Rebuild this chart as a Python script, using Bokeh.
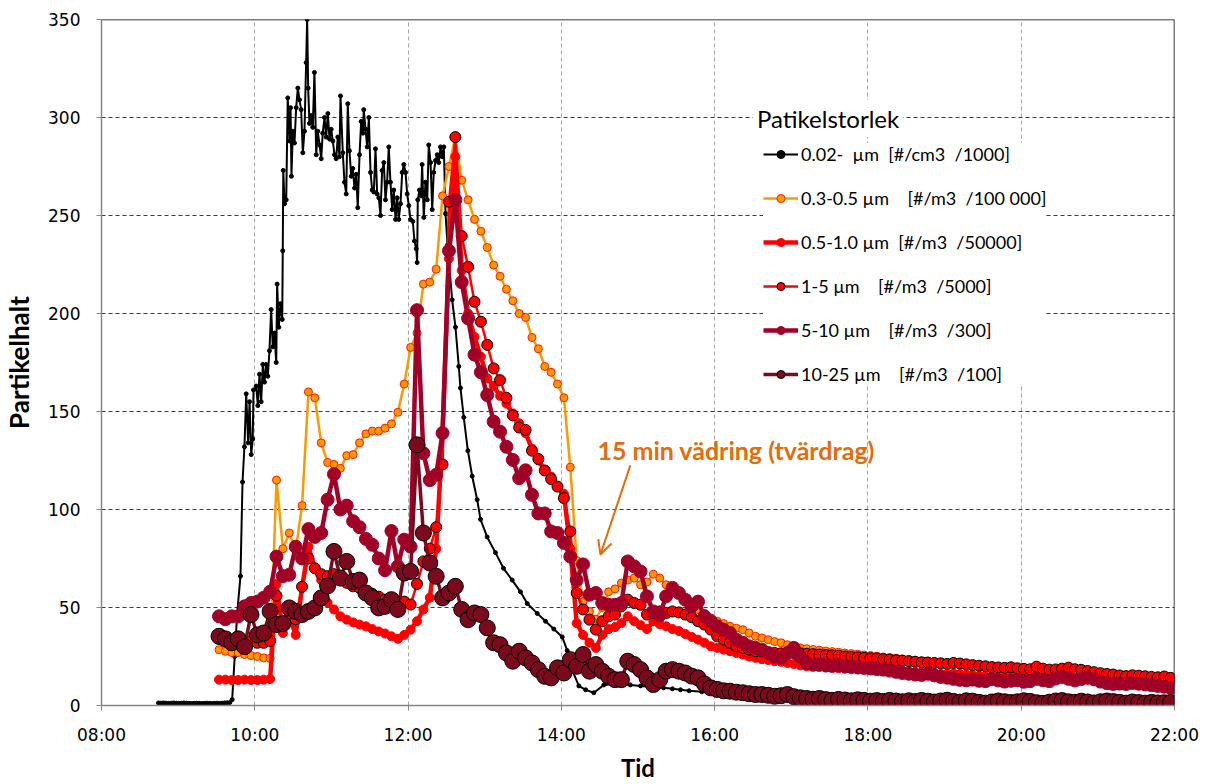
from bokeh.plotting import figure
from bokeh.models import (Range1d, FixedTicker, Legend, LegendItem, Label, Arrow,
                          OpenHead, Span, ColumnDataSource)
from bokeh.embed import file_html
from bokeh.resources import INLINE

# ---------------- data ----------------
# 0.02 um series (#/cm3 /1000): time in minutes after 08:00, value
black_min = [44.6, 46.5, 48.5, 50.5, 52.5, 54.5, 56.5, 58.5, 60.5, 62.5, 64.5, 66.5, 68.5, 70.5, 72.5,
             74.5, 76.5, 78.5, 80.5, 82.5, 84.5, 86.5, 88.5, 90.5, 92.5, 94.5, 96.5, 98.5, 100.5, 102.3,
             104.3, 106.2, 108.8, 110.4, 111.9, 113.3, 114.8, 115.9, 117.2, 118.4, 119.0, 121.1, 122.4,
             123.7, 125.0, 126.3, 127.6, 128.9, 130.2, 131.5, 132.8, 134.1, 135.4, 136.8, 137.5, 138.8,
             140.1, 141.5, 141.9, 142.3, 143.3, 144.6, 145.8, 147.2, 148.0, 148.7, 149.8, 151.1, 152.4,
             153.7, 155.0, 156.3, 157.6, 158.9, 160.2, 161.0, 161.8, 162.8, 164.2, 165.4, 166.7, 168.1,
             169.3, 170.7, 172.0, 173.2, 174.6, 175.9, 177.2, 178.5, 179.8, 181.1, 182.4, 183.7, 185.0,
             186.3, 187.1, 188.9, 190.2, 191.6, 192.8, 194.1, 195.5, 196.7, 198.1, 199.4, 200.6, 202.0,
             203.3, 204.6, 205.3, 206.7, 208.0, 209.3, 210.6, 211.9, 213.2, 214.5, 215.8, 217.1, 218.4,
             219.7, 221.0, 222.3, 223.6, 224.9, 226.2, 227.6, 228.8, 230.2, 231.5, 232.7, 234.1, 235.4,
             236.7, 238.0, 239.3, 240.6, 241.9, 243.7, 245.0, 246.4, 247.1, 247.6, 248.9, 250.3, 251.0,
             252.3, 253.6, 255.0, 256.2, 257.6, 258.9, 260.1, 261.5, 262.8, 264.0, 265.4, 266.7, 268.0,
             269.3, 270.9, 274.5, 277.1, 279.7, 281.0, 283.6, 286.8, 290.2, 294.1, 296.7, 301.9, 308.4,
             314.7, 321.5, 328.0, 333.3, 341.1, 347.6, 354.1, 360.7, 364.6, 368.5, 373.7, 379.0, 385.4,
             393.2, 400.0, 406.3, 414.0, 422.0, 431.0, 440.0, 447.0, 453.3, 460.0, 470.0, 480.0, 490.0,
             500.0, 510.0, 520.0, 530.0, 540.0, 550.0, 560.0, 570.0, 580.0, 590.0, 600.0, 615.0, 630.0,
             645.0, 660.0, 675.0, 690.0, 705.0, 720.0, 735.0, 750.0, 765.0, 780.0, 795.0, 810.0, 825.0,
             838.0]
black_val = [1.3, 1.2, 1.3, 1.2, 1.1, 1.2, 1.3, 1.2, 1.1, 1.2, 1.3, 1.2, 1.1, 1.0, 1.1,
             1.2, 1.1, 1.0, 1.1, 1.2, 1.1, 1.0, 1.1, 1.2, 1.1, 1.2, 1.3, 1.4, 1.5, 3,
             25, 47, 66, 114, 132, 159, 134, 155, 128, 136, 161, 163, 153,
             169, 155, 174, 165, 174, 168, 181, 202, 183, 190, 175, 215, 193,
             205, 197, 232, 273, 256, 258, 310, 288, 305, 270, 293, 287, 305,
             315, 309, 304, 282, 293, 328, 350, 315, 297, 301, 295, 323, 281,
             293, 286, 279, 292, 300, 290, 302, 289, 294, 288, 281, 279, 290,
             280, 311, 282, 267, 261, 307, 283, 270, 274, 264, 271, 254, 281,
             298, 292, 304, 294, 285, 300, 272, 263, 262, 284, 261, 259, 250,
             273, 277, 258, 267, 285, 267, 253, 263, 248, 259, 248, 256, 272,
             276, 272, 261, 255, 248, 247, 237, 233, 226, 258, 263, 260, 276,
             249, 267, 258, 286, 277, 253, 272, 278, 281, 277, 285, 280, 285,
             251, 235, 207, 193, 173, 162, 147, 130, 117, 105, 95, 86, 78,
             70, 64, 58, 52, 47, 43, 39, 35, 28, 18, 10, 8, 6.5,
             10.5, 10.8, 11, 10.5, 10, 9.5, 9, 8.5, 8, 7.5, 7, 6.5, 6,
             5.8, 5.5, 5, 4.8, 4.5, 4.3, 4, 3.8, 3.6, 3.4, 3.2, 3, 2.8,
             2.7, 2.6, 2.5, 2.4, 2.3, 2.2, 2.1, 2, 2, 1.9, 1.9, 1.8, 1.8,
             1.8]

# particle counter series: one sample every 5 minutes from 09:32
pc_start_min = 92      # minutes after 08:00  (09:32)
pc_step_min = 5

pm03_05 = [28.5, 27.7, 27, 27, 26, 25.5, 25, 24.3, 24, 115, 80, 88, 79, 102, 160, 157, 134, 124, 123, 121,
           127.5, 128, 134, 138.6, 140, 140, 141.5, 143.7, 149.6, 164, 182.7, 190, 215, 216, 222.6, 260, 275, 290, 268, 258,
           248, 242, 233.7, 224.7, 219, 212.4, 206.5, 200, 198, 187.8, 182, 173, 170, 164, 157, 121.6, 74, 53, 48, 44,
           50, 58, 59.5, 62.5, 64, 65, 61.6, 63, 67, 65, 61.6, 59, 56.5, 54, 51.5, 49, 47, 44.7, 43, 41.8,
           40.4, 39.4, 38.7, 37, 35.3, 34.5, 33.6, 32.6, 32, 31, 30.2, 29.4, 29, 28.6, 28.2, 27.8, 27.5, 27.2, 26.8, 26.5,
           26.2, 25.8, 25.5, 25.2, 24.8, 24.5, 24.1, 23.8, 23.5, 23.1, 22.8, 22.6, 22.3, 22, 21.8, 22.1, 21.7, 21.3, 20.9, 20.6,
           20.3, 19.9, 19.7, 19.5, 19.7, 19.2, 18.9, 18.7, 19.6, 18.9, 18.5, 18.5, 18.8, 19.1, 18.5, 18.1, 17.6, 17.1, 16.6, 16.2,
           15.9, 15.5, 15.2, 15.4, 15.2, 14.9, 14.7, 14.5, 14.6, 14.2]

pm05_10 = [13.2, 13.2, 13, 13, 13.2, 13, 13, 13.2, 13.5, 62, 37, 46, 36, 60, 81, 70, 64, 52.5, 49, 45.5,
           43.8, 42.4, 41.3, 40.4, 39, 37.8, 36.7, 35.3, 34, 36, 38.7, 43, 49, 55, 80, 139, 228, 280, 222, 200,
           188, 178, 167, 163, 158, 154, 149, 144, 139, 131, 125, 120, 116.8, 112, 108, 80, 42, 36, 32, 29.4,
           36, 39, 40, 42, 45.5, 43, 41, 39, 43, 41.5, 40.4, 39, 38, 36.5, 35, 33.6, 32, 30.2, 29.4, 28.5,
           27.7, 26.8, 26, 25, 24.3, 23.6, 23.2, 22.6, 22.3, 21.7, 21.2, 20.5, 20, 19.8, 19.6, 19.4, 19.2, 19, 18.8, 18.6,
           18.4, 18.3, 18.2, 18, 17.8, 17.6, 17.5, 17.3, 17, 16.8, 16.6, 16.5, 16.3, 16.1, 16, 16.3, 16, 15.7, 15.5, 15.2,
           15, 14.8, 14.6, 14.5, 14.7, 14.3, 14.1, 13.9, 14.8, 14, 13.8, 13.7, 14.2, 14.5, 13.8, 13.5, 13.2, 13, 12.8, 12.6,
           12.4, 12.2, 12.1, 12.3, 12.2, 12, 11.8, 11.7, 11.9, 11.5]

pm1_5 = [34, 33, 32.5, 32, 31.5, 33, 32, 32, 33, 56, 42, 50, 44, 60.6, 75, 70, 67, 66, 67, 64,
         62.6, 60.8, 60, 58, 57, 55.5, 54, 53, 52.5, 53, 51.5, 62, 73.5, 80, 91, 123, 257, 290, 239.5, 223.8,
         206, 195.8, 184, 172, 166, 157, 148, 141.8, 140.6, 130, 125.8, 119.9, 115.5, 111.7, 105.8, 88.8, 57.4, 49, 43.8, 38.7,
         43, 45.5, 46.4, 50.6, 54, 52.3, 51.4, 46.4, 47.2, 48, 47.2, 48, 47.5, 46.4, 45, 43, 41.3, 38.7, 35.3, 33.6,
         32, 30.2, 29.4, 28.5, 27.7, 27.7, 26.8, 26.8, 26.6, 26.5, 26.8, 26.6, 26.4, 26.2, 26, 25.8, 25.6, 25.4, 25, 24.8,
         24.6, 24.3, 24.1, 24, 23.6, 23.4, 23.1, 22.8, 22.6, 22.3, 22, 21.9, 21.7, 21.5, 21.2, 21.7, 21.4, 21, 20.6, 20.3,
         20, 19.6, 19.4, 19.2, 19.5, 19, 18.7, 18.5, 19.8, 18.8, 18.3, 18.4, 18.8, 19.3, 18.5, 18.2, 17.6, 17, 16.5, 16.1,
         15.8, 15.3, 15, 15.4, 15.2, 14.9, 14.6, 14.4, 14.8, 14.1]

pm5_10 = [45.5, 44, 45.5, 45.5, 50.6, 52.3, 53, 55, 58, 76, 66, 66.7, 81, 75, 90, 86, 88, 105, 118, 100,
          102, 94, 91, 85, 82, 75, 69, 89, 71, 84.6, 81, 201.7, 128.7, 115, 117.7, 139, 232, 258, 216, 197.5,
          179, 170, 158.4, 144.8, 139.7, 132, 125.3, 116, 120, 107.5, 98, 98, 88.8, 88, 83, 76, 64, 72, 56.5, 57.4,
          52.3, 51.4, 51.4, 52.3, 73.5, 71, 68.4, 55.7, 48, 46, 55.7, 60, 57.4, 54, 50.6, 53, 45.5, 43, 40.4, 38.7,
          37, 33.6, 32, 30.2, 29.4, 28.5, 26.8, 25, 24.3, 26.8, 29.4, 25, 21.7, 20.9, 21, 20.5, 20.3, 20.6, 20, 19.8,
          19.5, 19.2, 18.9, 18.6, 18.3, 17.8, 17.2, 16.6, 16.2, 15.8, 15.6, 16.2, 15.4, 14.6, 14.2, 13.6, 13.1, 12.8, 13.2, 12.6,
          12.4, 13.5, 12.8, 12.2, 12.6, 12.9, 12.1, 12.4, 13.6, 12.9, 12.4, 13.8, 14.6, 13.6, 12.8, 13.5, 14.2, 13.4, 12.2, 11.4,
          11, 11.2, 11, 11.5, 11.1, 10.8, 10.4, 10, 9.6, 9]

pm10_25 = [35.3, 34, 32, 34, 30, 46.4, 36, 37, 48, 41.3, 41.8, 49.8, 48, 46.4, 48, 49.8, 54.9, 61, 78.6, 65,
           73.5, 63.3, 64, 57.4, 54.9, 49.8, 50.6, 54, 49, 67.6, 68.4, 133, 88, 72.7, 65.9, 54.9, 57.4, 60.8, 49, 43.8,
           47.2, 46.4, 39.6, 32, 31, 26.8, 22.6, 27.7, 24.3, 21.7, 18.3, 14.9, 14.1, 19.2, 16.6, 23.4, 20, 26, 17.5, 20.9,
           17.5, 14.9, 13.2, 13.2, 22.6, 20.9, 18.3, 14.1, 10.7, 13.2, 17.5, 18.3, 17.5, 16.6, 15, 14.1, 11, 9, 8.2, 7.5,
           7.3, 6.8, 6.5, 6, 5.6, 5.6, 5.2, 4.7, 5, 5.6, 4.5, 3.9, 3.6, 3.2, 3.6, 3, 2.6, 3.1, 2.8, 2.4,
           2.9, 2.6, 2.2, 2.5, 2.1, 2.6, 2.3, 1.9, 2.4, 2, 2.6, 2.2, 1.8, 2.3, 2.7, 2.1, 1.7, 2.4, 2.2, 1.6,
           1.2, 1.8, 2.3, 1.9, 1.5, 1.9, 2.4, 2.1, 1.4, 1.1, 1.7, 2.3, 2.5, 1.9, 1.6, 2.2, 1.8, 1.3, 1.9, 2.3,
           2, 1.6, 1.2, 1.8, 1.5, 1.2, 1.6, 1.3, 1.4, 1.5]

tick_hours = [8, 10, 12, 14, 16, 18, 20, 22]
tick_labels = ["08:00", "10:00", "12:00", "14:00", "16:00", "18:00", "20:00", "22:00"]
y_ticks = [0, 50, 100, 150, 200, 250, 300, 350]

legend_labels = ["0.02-  µm  [#/cm3  /1000]",
                 "0.3-0.5 µm    [#/m3  /100 000]",
                 "0.5-1.0 µm  [#/m3  /50000]",
                 "1-5 µm    [#/m3  /5000]",
                 "5-10 µm    [#/m3  /300]",
                 "10-25 µm    [#/m3  /100]"]

# ---------------- figure ----------------
black_t = [8 + m / 60 for m in black_min]
pc_t = [8 + (pc_start_min + pc_step_min * i) / 60 for i in range(len(pm03_05))]

LABEL_FONT = "Lato"

p = figure(width=1207, height=784, output_backend="svg", toolbar_location=None,
           x_range=Range1d(8, 22), y_range=Range1d(0, 350),
           min_border_left=101, min_border_right=33, min_border_top=19, min_border_bottom=78)
p.outline_line_color = None
p.background_fill_color = "white"

p.xaxis.ticker = FixedTicker(ticks=tick_hours)
p.xaxis.major_label_overrides = {h: l for h, l in zip(tick_hours, tick_labels)}
p.yaxis.ticker = FixedTicker(ticks=y_ticks)
for ax in (p.xaxis, p.yaxis):
    ax.axis_line_color = "#868686"
    ax.axis_line_width = 1.5
    ax.major_tick_line_color = "#868686"
    ax.major_tick_out = 5
    ax.major_tick_in = 0
    ax.minor_tick_line_color = None
    ax.major_label_text_font = "DejaVu Sans"
    ax.major_label_text_font_size = "17px"
    ax.major_label_text_color = "black"
    ax.axis_label_text_font = LABEL_FONT
    ax.axis_label_text_font_style = "bold"
    ax.axis_label_text_color = "black"
p.xaxis.axis_label = "Tid"
p.yaxis.axis_label = "Partikelhalt"
p.xaxis.axis_label_text_font_size = "24px"
p.yaxis.axis_label_text_font_size = "26px"
p.yaxis.major_label_standoff = 16
p.xaxis.major_label_standoff = 14
p.yaxis.axis_label_standoff = 10
p.xaxis.axis_label_standoff = 5

p.xgrid.grid_line_color = "#A6A6A6"
p.xgrid.grid_line_dash = "4 3"
p.xgrid.grid_line_width = 1
p.ygrid.grid_line_color = "#3A3A3A"
p.ygrid.grid_line_dash = "4 3"
p.ygrid.grid_line_width = 1

p.add_layout(Span(location=350, dimension="width", line_color="black", line_width=1.5))
p.add_layout(Span(location=22, dimension="height", line_color="black", line_width=1.5))

items = []

def series(x, y, line_color, line_width, size, fill, outline, label):
    src = ColumnDataSource(dict(x=x, y=y))
    lr = p.line("x", "y", source=src, line_color=line_color, line_width=line_width)
    sr = p.scatter("x", "y", source=src, size=size, fill_color=fill,
                   line_color=outline, line_width=1)
    items.append(LegendItem(label=label, renderers=[lr, sr]))

series(black_t, black_val, "black", 2, 4, "black", "black", legend_labels[0])
series(pc_t, pm03_05, "#FF9900", 2.5, 8, "#FF9900", "#FF1A00", legend_labels[1])
series(pc_t, pm05_10, "#FF0000", 4.5, 9, "#FF0000", "#FF0000", legend_labels[2])
series(pc_t, pm1_5, "#FF0000", 2.5, 11, "#FF0000", "black", legend_labels[3])
series(pc_t, pm5_10, "#A10027", 4.5, 13, "#A10027", "#A10027", legend_labels[4])
series(pc_t, pm10_25, "#7A0A1C", 3.5, 16, "#7A0A1C", "black", legend_labels[5])

legend = Legend(items=items, location=(662, 320),
                background_fill_color="white", background_fill_alpha=1.0,
                border_line_color=None,
                label_text_font=LABEL_FONT, label_text_font_size="18px",
                label_text_color="black",
                glyph_width=35, glyph_height=20, label_height=20,
                spacing=22, padding=14, margin=0, label_standoff=3)
p.add_layout(legend)

p.add_layout(Label(x=16.5, y=299.5, text="Patikelstorlek", text_font=LABEL_FONT,
                   text_font_size="24px", text_color="black",
                   text_baseline="middle", text_align="left",
                   background_fill_color="white", background_fill_alpha=1.0,
                   padding=4))

p.add_layout(Label(x=14.47, y=130.5, text="15 min vädring (tvärdrag)",
                   text_font=LABEL_FONT, text_font_style="bold", text_font_size="25px",
                   text_color="#E46C0A", text_baseline="middle", text_align="left"))
p.add_layout(Arrow(x_start=14.90, y_start=122.5, x_end=14.51, y_end=77,
                   line_color="#E46C0A", line_width=2,
                   end=OpenHead(size=14, line_color="#E46C0A", line_width=2)))

open("out.html", "w").write(file_html(p, INLINE))
